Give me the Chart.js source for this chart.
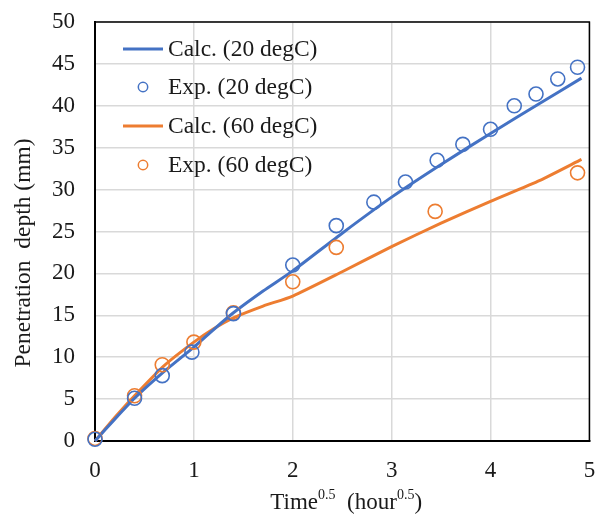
<!DOCTYPE html>
<html><head><meta charset="utf-8">
<script src="https://cdn.jsdelivr.net/npm/chart.js@4/dist/chart.umd.min.js"></script>
<style>html,body{margin:0;padding:0;background:#fff;overflow:hidden}</style>
</head><body>
<canvas id="c" width="598" height="516"></canvas>
<script>
// ---- data ----
const seriesNames = ['Calc. (20 degC)', 'Exp. (20 degC)', 'Calc. (60 degC)', 'Exp. (60 degC)'];
const calcTime = [0, 0.2, 0.4, 0.7, 1.0, 1.2, 1.4, 1.7, 2.0, 2.5, 3.0, 3.5, 4.0, 4.5, 4.92];
const calc20   = [0, 2.6, 5.1, 8.3, 11.2, 13.3, 15.3, 17.9, 20.3, 24.8, 29.1, 33.0, 36.7, 40.3, 43.3];
const calc60   = [0, 2.8, 5.4, 9.0, 11.8, 13.4, 14.7, 16.1, 17.3, 20.2, 23.2, 26.0, 28.6, 31.1, 33.6];
const expTime20 = [0, 0.4, 0.68, 0.98, 1.4, 2.0, 2.44, 2.82, 3.14, 3.46, 3.72, 4.0, 4.24, 4.46, 4.68, 4.88];
const exp20     = [0.2, 5.1, 7.8, 10.6, 15.2, 21.0, 25.7, 28.5, 30.9, 33.5, 35.4, 37.2, 40.0, 41.4, 43.2, 44.6];
const expTime60 = [0, 0.4, 0.68, 1.0, 1.4, 2.0, 2.44, 3.44, 4.88];
const exp60     = [0.3, 5.4, 9.1, 11.8, 15.3, 19.0, 23.1, 27.4, 32.0];
const xTickValues = [0, 1, 2, 3, 4, 5];
const yTickValues = [0, 5, 10, 15, 20, 25, 30, 35, 40, 45, 50];
const xTitleParts = [['Time', false], ['0.5', true], ['  (hour', false], ['0.5', true], [')', false]];
const yTitle = 'Penetration  depth (mm)';

const BLUE = '#4472C4', ORANGE = '#ED7D31';
const FONT = '"Liberation Serif", "Times New Roman", serif';
const TXT = '#1a1a1a';

function pts(xs, ys) { return xs.map((x, i) => ({x: x, y: ys[i]})); }
function zeroPad(s) { s.paddingTop = 0; s.paddingBottom = 0; s.paddingLeft = 0; s.paddingRight = 0; }

const frameAndTitles = {
  id: 'frameAndTitles',
  afterDatasetsDraw(chart) {
    const ctx = chart.ctx, a = chart.chartArea;
    ctx.save();
    ctx.strokeStyle = '#000'; ctx.lineWidth = 1.5;
    ctx.beginPath();
    ctx.moveTo(a.left, a.top); ctx.lineTo(a.right, a.top); ctx.lineTo(a.right, a.bottom);
    ctx.stroke();
    ctx.restore();
  },
  afterDraw(chart) {
    const ctx = chart.ctx, a = chart.chartArea;
    ctx.save();
    // x title with superscripts
    const main = '23px ' + FONT, sup = '14px ' + FONT;
    let total = 0;
    xTitleParts.forEach(([t, s]) => { ctx.font = s ? sup : main; total += ctx.measureText(t).width; });
    let x = (a.left + a.right) / 2 + 4 - total / 2;
    const base = 509;
    ctx.fillStyle = TXT; ctx.textBaseline = 'alphabetic'; ctx.textAlign = 'left';
    xTitleParts.forEach(([t, s]) => {
      ctx.font = s ? sup : main;
      ctx.fillText(t, x, s ? base - 10 : base);
      x += ctx.measureText(t).width;
    });
    // y title
    ctx.save();
    ctx.translate(29.5, 253);
    ctx.rotate(-Math.PI / 2);
    ctx.font = '23.5px ' + FONT; ctx.textAlign = 'center'; ctx.textBaseline = 'alphabetic';
    ctx.fillText(yTitle, 0, 0);
    ctx.restore();
    // legend
    const rows = [49, 87, 126, 165];
    const colors = [BLUE, BLUE, ORANGE, ORANGE];
    ctx.font = '23.5px ' + FONT; ctx.textBaseline = 'middle'; ctx.textAlign = 'left';
    rows.forEach((y, i) => {
      ctx.strokeStyle = colors[i];
      if (i % 2 === 0) {
        ctx.lineWidth = 3;
        ctx.beginPath(); ctx.moveTo(123, y); ctx.lineTo(163, y); ctx.stroke();
      } else {
        ctx.lineWidth = 1.5;
        ctx.beginPath(); ctx.arc(143, y, 4.7, 0, Math.PI * 2); ctx.stroke();
      }
      ctx.fillStyle = TXT;
      ctx.fillText(seriesNames[i], 168, y + 1);
    });
    ctx.restore();
  }
};

new Chart(document.getElementById('c'), {
  type: 'scatter',
  data: {
    datasets: [
      { label: seriesNames[0], data: pts(calcTime, calc20), showLine: true, borderColor: BLUE, borderWidth: 3, pointRadius: 0, tension: 0.2, clip: false, order: 2 },
      { label: seriesNames[1], data: pts(expTime20, exp20), showLine: false, borderColor: BLUE, backgroundColor: 'rgba(0,0,0,0)', borderWidth: 1.6, pointRadius: 7, pointStyle: 'circle', clip: false, order: 1 },
      { label: seriesNames[2], data: pts(calcTime, calc60), showLine: true, borderColor: ORANGE, borderWidth: 3, pointRadius: 0, tension: 0.2, clip: false, order: 2 },
      { label: seriesNames[3], data: pts(expTime60, exp60), showLine: false, borderColor: ORANGE, backgroundColor: 'rgba(0,0,0,0)', borderWidth: 1.6, pointRadius: 7, pointStyle: 'circle', clip: false, order: 1 }
    ]
  },
  options: {
    responsive: false, animation: false, devicePixelRatio: 1,
    layout: { padding: { left: 0, top: 22, right: 8, bottom: 0 } },
    plugins: { legend: { display: false }, tooltip: { enabled: false } },
    scales: {
      x: {
        type: 'linear', min: 0, max: 5,
        afterFit(s) { s.height = 75; zeroPad(s); },
        afterBuildTicks(s) { s.ticks = xTickValues.map(v => ({value: v})); },
        ticks: { font: { family: FONT, size: 23 }, color: TXT, padding: 16, maxRotation: 0 },
        grid: { color: '#d9d9d9', lineWidth: 1.5, drawTicks: false },
        border: { color: '#000', width: 2 },
        title: { display: false }
      },
      y: {
        type: 'linear', min: 0, max: 50,
        afterFit(s) { s.width = 95; zeroPad(s); },
        afterBuildTicks(s) { s.ticks = yTickValues.map(v => ({value: v})); },
        ticks: { font: { family: FONT, size: 23 }, color: TXT, padding: 20 },
        grid: { color: '#d9d9d9', lineWidth: 1.5, drawTicks: false },
        border: { color: '#000', width: 2 },
        title: { display: false }
      }
    }
  },
  plugins: [frameAndTitles]
});
</script>
</body></html>
